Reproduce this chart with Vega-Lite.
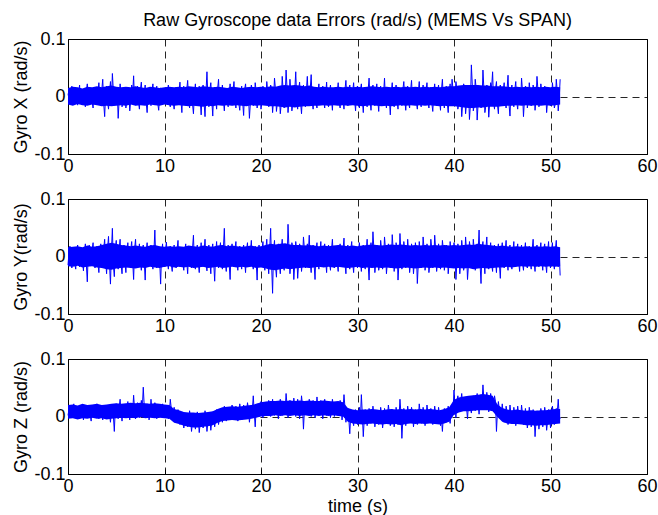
{
"$schema": "https://vega.github.io/schema/vega-lite/v6.json",
"background": "white",
"padding": {"left": 11, "top": 11, "right": 0, "bottom": 0},
"autosize": {"type": "pad"},
"spacing": 45,
"bounds": "flush",
"datasets": {"env": [
{"t":0,"xl":-0.014,"xh":0.015,"yl":-0.017,"yh":0.016,"zl":-0.004,"zh":0.020},
{"t":0.5,"xl":-0.016,"xh":0.017,"yl":-0.018,"yh":0.017,"zl":-0.003,"zh":0.021},
{"t":1,"xl":-0.013,"xh":0.016,"yl":-0.016,"yh":0.018,"zl":-0.005,"zh":0.019},
{"t":1.5,"xl":-0.015,"xh":0.014,"yl":-0.019,"yh":0.016,"zl":-0.003,"zh":0.022},
{"t":2,"xl":-0.016,"xh":0.017,"yl":-0.018,"yh":0.019,"zl":-0.004,"zh":0.020},
{"t":2.5,"xl":-0.014,"xh":0.016,"yl":-0.017,"yh":0.017,"zl":-0.002,"zh":0.021},
{"t":3,"xl":-0.015,"xh":0.018,"yl":-0.019,"yh":0.018,"zl":-0.004,"zh":0.022},
{"t":3.5,"xl":-0.017,"xh":0.016,"yl":-0.020,"yh":0.020,"zl":-0.003,"zh":0.020},
{"t":4,"xl":-0.016,"xh":0.018,"yl":-0.022,"yh":0.022,"zl":-0.005,"zh":0.021},
{"t":4.5,"xl":-0.017,"xh":0.019,"yl":-0.023,"yh":0.024,"zl":-0.004,"zh":0.022},
{"t":5,"xl":-0.016,"xh":0.017,"yl":-0.021,"yh":0.022,"zl":-0.003,"zh":0.023},
{"t":5.5,"xl":-0.015,"xh":0.016,"yl":-0.020,"yh":0.020,"zl":-0.002,"zh":0.022},
{"t":6,"xl":-0.016,"xh":0.017,"yl":-0.019,"yh":0.019,"zl":-0.003,"zh":0.023},
{"t":6.5,"xl":-0.014,"xh":0.016,"yl":-0.020,"yh":0.018,"zl":-0.002,"zh":0.024},
{"t":7,"xl":-0.016,"xh":0.018,"yl":-0.021,"yh":0.019,"zl":-0.003,"zh":0.023},
{"t":7.5,"xl":-0.015,"xh":0.016,"yl":-0.019,"yh":0.018,"zl":-0.001,"zh":0.024},
{"t":8,"xl":-0.016,"xh":0.015,"yl":-0.020,"yh":0.017,"zl":-0.003,"zh":0.023},
{"t":8.5,"xl":-0.014,"xh":0.017,"yl":-0.018,"yh":0.019,"zl":-0.002,"zh":0.022},
{"t":9,"xl":-0.015,"xh":0.016,"yl":-0.019,"yh":0.020,"zl":-0.003,"zh":0.023},
{"t":9.5,"xl":-0.016,"xh":0.015,"yl":-0.020,"yh":0.018,"zl":-0.002,"zh":0.022},
{"t":10,"xl":-0.014,"xh":0.016,"yl":-0.018,"yh":0.017,"zl":-0.003,"zh":0.021},
{"t":10.5,"xl":-0.015,"xh":0.017,"yl":-0.017,"yh":0.018,"zl":-0.004,"zh":0.020},
{"t":11,"xl":-0.016,"xh":0.016,"yl":-0.019,"yh":0.017,"zl":-0.011,"zh":0.013},
{"t":11.5,"xl":-0.015,"xh":0.017,"yl":-0.018,"yh":0.018,"zl":-0.013,"zh":0.011},
{"t":12,"xl":-0.016,"xh":0.016,"yl":-0.019,"yh":0.017,"zl":-0.016,"zh":0.008},
{"t":12.5,"xl":-0.017,"xh":0.018,"yl":-0.018,"yh":0.019,"zl":-0.018,"zh":0.007},
{"t":13,"xl":-0.016,"xh":0.017,"yl":-0.020,"yh":0.018,"zl":-0.019,"zh":0.007},
{"t":13.5,"xl":-0.017,"xh":0.016,"yl":-0.019,"yh":0.017,"zl":-0.019,"zh":0.006},
{"t":14,"xl":-0.018,"xh":0.018,"yl":-0.018,"yh":0.019,"zl":-0.018,"zh":0.007},
{"t":14.5,"xl":-0.016,"xh":0.017,"yl":-0.020,"yh":0.018,"zl":-0.017,"zh":0.008},
{"t":15,"xl":-0.017,"xh":0.016,"yl":-0.019,"yh":0.017,"zl":-0.015,"zh":0.009},
{"t":15.5,"xl":-0.015,"xh":0.017,"yl":-0.018,"yh":0.019,"zl":-0.011,"zh":0.013},
{"t":16,"xl":-0.016,"xh":0.016,"yl":-0.020,"yh":0.020,"zl":-0.008,"zh":0.016},
{"t":16.5,"xl":-0.015,"xh":0.015,"yl":-0.019,"yh":0.018,"zl":-0.007,"zh":0.017},
{"t":17,"xl":-0.016,"xh":0.017,"yl":-0.018,"yh":0.019,"zl":-0.006,"zh":0.018},
{"t":17.5,"xl":-0.015,"xh":0.016,"yl":-0.019,"yh":0.018,"zl":-0.007,"zh":0.017},
{"t":18,"xl":-0.016,"xh":0.015,"yl":-0.018,"yh":0.017,"zl":-0.006,"zh":0.018},
{"t":18.5,"xl":-0.017,"xh":0.016,"yl":-0.019,"yh":0.018,"zl":-0.005,"zh":0.019},
{"t":19,"xl":-0.015,"xh":0.017,"yl":-0.018,"yh":0.019,"zl":-0.004,"zh":0.020},
{"t":19.5,"xl":-0.016,"xh":0.016,"yl":-0.020,"yh":0.017,"zl":-0.002,"zh":0.022},
{"t":20,"xl":-0.015,"xh":0.017,"yl":-0.019,"yh":0.018,"zl":0.000,"zh":0.025},
{"t":20.5,"xl":-0.016,"xh":0.016,"yl":-0.021,"yh":0.020,"zl":0.001,"zh":0.026},
{"t":21,"xl":-0.017,"xh":0.018,"yl":-0.023,"yh":0.022,"zl":0.001,"zh":0.027},
{"t":21.5,"xl":-0.017,"xh":0.017,"yl":-0.024,"yh":0.021,"zl":0.002,"zh":0.027},
{"t":22,"xl":-0.018,"xh":0.019,"yl":-0.022,"yh":0.022,"zl":0.001,"zh":0.028},
{"t":22.5,"xl":-0.019,"xh":0.020,"yl":-0.021,"yh":0.023,"zl":0.002,"zh":0.027},
{"t":23,"xl":-0.018,"xh":0.019,"yl":-0.022,"yh":0.021,"zl":0.001,"zh":0.028},
{"t":23.5,"xl":-0.019,"xh":0.020,"yl":-0.021,"yh":0.020,"zl":0.002,"zh":0.027},
{"t":24,"xl":-0.018,"xh":0.019,"yl":-0.020,"yh":0.020,"zl":0.001,"zh":0.028},
{"t":24.5,"xl":-0.017,"xh":0.018,"yl":-0.019,"yh":0.019,"zl":0.002,"zh":0.027},
{"t":25,"xl":-0.017,"xh":0.019,"yl":-0.020,"yh":0.020,"zl":0.001,"zh":0.028},
{"t":25.5,"xl":-0.016,"xh":0.017,"yl":-0.019,"yh":0.019,"zl":0.002,"zh":0.027},
{"t":26,"xl":-0.016,"xh":0.016,"yl":-0.018,"yh":0.018,"zl":0.001,"zh":0.027},
{"t":26.5,"xl":-0.015,"xh":0.017,"yl":-0.019,"yh":0.019,"zl":0.002,"zh":0.028},
{"t":27,"xl":-0.016,"xh":0.016,"yl":-0.018,"yh":0.018,"zl":0.001,"zh":0.027},
{"t":27.5,"xl":-0.015,"xh":0.016,"yl":-0.019,"yh":0.019,"zl":0.002,"zh":0.026},
{"t":28,"xl":-0.016,"xh":0.017,"yl":-0.018,"yh":0.020,"zl":0.001,"zh":0.027},
{"t":28.5,"xl":-0.015,"xh":0.016,"yl":-0.019,"yh":0.019,"zl":0.000,"zh":0.025},
{"t":29,"xl":-0.016,"xh":0.017,"yl":-0.020,"yh":0.018,"zl":-0.009,"zh":0.015},
{"t":29.5,"xl":-0.015,"xh":0.016,"yl":-0.019,"yh":0.019,"zl":-0.012,"zh":0.012},
{"t":30,"xl":-0.016,"xh":0.017,"yl":-0.018,"yh":0.018,"zl":-0.013,"zh":0.011},
{"t":30.5,"xl":-0.017,"xh":0.016,"yl":-0.020,"yh":0.019,"zl":-0.014,"zh":0.012},
{"t":31,"xl":-0.016,"xh":0.017,"yl":-0.019,"yh":0.020,"zl":-0.013,"zh":0.012},
{"t":31.5,"xl":-0.015,"xh":0.018,"yl":-0.020,"yh":0.021,"zl":-0.012,"zh":0.013},
{"t":32,"xl":-0.016,"xh":0.017,"yl":-0.019,"yh":0.020,"zl":-0.013,"zh":0.012},
{"t":32.5,"xl":-0.017,"xh":0.016,"yl":-0.020,"yh":0.019,"zl":-0.014,"zh":0.011},
{"t":33,"xl":-0.016,"xh":0.017,"yl":-0.019,"yh":0.020,"zl":-0.013,"zh":0.012},
{"t":33.5,"xl":-0.017,"xh":0.016,"yl":-0.020,"yh":0.021,"zl":-0.014,"zh":0.013},
{"t":34,"xl":-0.016,"xh":0.017,"yl":-0.021,"yh":0.020,"zl":-0.013,"zh":0.012},
{"t":34.5,"xl":-0.015,"xh":0.016,"yl":-0.020,"yh":0.021,"zl":-0.015,"zh":0.013},
{"t":35,"xl":-0.016,"xh":0.017,"yl":-0.019,"yh":0.020,"zl":-0.013,"zh":0.012},
{"t":35.5,"xl":-0.015,"xh":0.016,"yl":-0.020,"yh":0.019,"zl":-0.012,"zh":0.013},
{"t":36,"xl":-0.016,"xh":0.017,"yl":-0.021,"yh":0.020,"zl":-0.013,"zh":0.012},
{"t":36.5,"xl":-0.015,"xh":0.016,"yl":-0.020,"yh":0.019,"zl":-0.012,"zh":0.013},
{"t":37,"xl":-0.016,"xh":0.017,"yl":-0.019,"yh":0.020,"zl":-0.013,"zh":0.012},
{"t":37.5,"xl":-0.015,"xh":0.016,"yl":-0.020,"yh":0.019,"zl":-0.012,"zh":0.013},
{"t":38,"xl":-0.016,"xh":0.017,"yl":-0.019,"yh":0.020,"zl":-0.013,"zh":0.012},
{"t":38.5,"xl":-0.017,"xh":0.016,"yl":-0.020,"yh":0.019,"zl":-0.014,"zh":0.011},
{"t":39,"xl":-0.016,"xh":0.017,"yl":-0.019,"yh":0.020,"zl":-0.012,"zh":0.013},
{"t":39.5,"xl":-0.017,"xh":0.018,"yl":-0.020,"yh":0.019,"zl":-0.009,"zh":0.016},
{"t":40,"xl":-0.017,"xh":0.018,"yl":-0.021,"yh":0.020,"zl":0.003,"zh":0.029},
{"t":40.5,"xl":-0.018,"xh":0.019,"yl":-0.020,"yh":0.019,"zl":0.007,"zh":0.033},
{"t":41,"xl":-0.019,"xh":0.020,"yl":-0.021,"yh":0.020,"zl":0.009,"zh":0.035},
{"t":41.5,"xl":-0.020,"xh":0.020,"yl":-0.020,"yh":0.021,"zl":0.009,"zh":0.036},
{"t":42,"xl":-0.020,"xh":0.020,"yl":-0.022,"yh":0.020,"zl":0.010,"zh":0.037},
{"t":42.5,"xl":-0.019,"xh":0.020,"yl":-0.021,"yh":0.022,"zl":0.011,"zh":0.038},
{"t":43,"xl":-0.019,"xh":0.019,"yl":-0.020,"yh":0.021,"zl":0.011,"zh":0.039},
{"t":43.5,"xl":-0.018,"xh":0.019,"yl":-0.021,"yh":0.020,"zl":0.011,"zh":0.038},
{"t":44,"xl":-0.018,"xh":0.018,"yl":-0.020,"yh":0.019,"zl":0.009,"zh":0.036},
{"t":44.5,"xl":-0.018,"xh":0.018,"yl":-0.019,"yh":0.018,"zl":-0.001,"zh":0.021},
{"t":45,"xl":-0.017,"xh":0.018,"yl":-0.019,"yh":0.019,"zl":-0.009,"zh":0.015},
{"t":45.5,"xl":-0.016,"xh":0.017,"yl":-0.018,"yh":0.018,"zl":-0.012,"zh":0.012},
{"t":46,"xl":-0.016,"xh":0.016,"yl":-0.019,"yh":0.017,"zl":-0.013,"zh":0.011},
{"t":46.5,"xl":-0.015,"xh":0.017,"yl":-0.018,"yh":0.018,"zl":-0.013,"zh":0.012},
{"t":47,"xl":-0.016,"xh":0.016,"yl":-0.017,"yh":0.017,"zl":-0.014,"zh":0.011},
{"t":47.5,"xl":-0.015,"xh":0.017,"yl":-0.018,"yh":0.018,"zl":-0.015,"zh":0.010},
{"t":48,"xl":-0.016,"xh":0.016,"yl":-0.017,"yh":0.017,"zl":-0.015,"zh":0.011},
{"t":48.5,"xl":-0.015,"xh":0.017,"yl":-0.018,"yh":0.018,"zl":-0.016,"zh":0.010},
{"t":49,"xl":-0.016,"xh":0.016,"yl":-0.017,"yh":0.017,"zl":-0.015,"zh":0.011},
{"t":49.5,"xl":-0.015,"xh":0.017,"yl":-0.018,"yh":0.018,"zl":-0.015,"zh":0.011},
{"t":50,"xl":-0.016,"xh":0.016,"yl":-0.017,"yh":0.017,"zl":-0.014,"zh":0.012},
{"t":50.5,"xl":-0.015,"xh":0.017,"yl":-0.018,"yh":0.018,"zl":-0.013,"zh":0.013},
{"t":51,"xl":-0.014,"xh":0.016,"yl":-0.017,"yh":0.016,"zl":-0.012,"zh":0.013}
],
"g": [
{"t":0,"x":0.005,"y":-0.015,"z":0.002},
{"t":0.2,"x":-0.012,"y":0.018,"z":0.018},
{"t":0.4,"x":0.018,"y":-0.020,"z":-0.002},
{"t":0.6,"x":-0.008,"y":0.012,"z":0.022},
{"t":0.8,"x":0.014,"y":-0.022,"z":0.000},
{"t":1.0,"x":-0.015,"y":0.020,"z":0.016},
{"t":1.2,"x":0.020,"y":-0.018,"z":-0.004},
{"t":1.4,"x":-0.006,"y":0.015,"z":0.020},
{"t":1.6,"x":0.012,"y":-0.025,"z":-0.006},
{"t":1.8,"x":-0.018,"y":0.022,"z":0.014},
{"t":2.0,"x":0.022,"y":-0.044,"z":0.000},
{"t":2.2,"x":-0.010,"y":0.020,"z":0.020},
{"t":2.4,"x":0.009,"y":-0.016,"z":-0.008},
{"t":2.6,"x":-0.020,"y":0.024,"z":0.016},
{"t":2.8,"x":0.016,"y":-0.020,"z":0.002},
{"t":3.0,"x":-0.012,"y":0.018,"z":0.022},
{"t":3.2,"x":0.024,"y":-0.028,"z":-0.004},
{"t":3.4,"x":-0.008,"y":0.022,"z":0.014},
{"t":3.6,"x":0.030,"y":-0.018,"z":-0.006},
{"t":3.8,"x":-0.035,"y":0.030,"z":0.018},
{"t":4.0,"x":0.018,"y":-0.030,"z":-0.002},
{"t":4.2,"x":-0.022,"y":0.035,"z":0.020},
{"t":4.4,"x":0.026,"y":-0.048,"z":-0.010},
{"t":4.6,"x":0.040,"y":0.049,"z":0.016},
{"t":4.8,"x":-0.014,"y":-0.035,"z":-0.026},
{"t":5.0,"x":0.010,"y":0.028,"z":0.022},
{"t":5.2,"x":-0.038,"y":-0.022,"z":-0.004},
{"t":5.4,"x":0.022,"y":0.030,"z":0.030},
{"t":5.6,"x":-0.018,"y":-0.030,"z":-0.008},
{"t":5.8,"x":0.015,"y":0.020,"z":0.020},
{"t":6.0,"x":-0.020,"y":-0.028,"z":-0.002},
{"t":6.2,"x":0.012,"y":0.024,"z":0.026},
{"t":6.4,"x":-0.025,"y":-0.018,"z":-0.006},
{"t":6.6,"x":0.020,"y":0.026,"z":0.018},
{"t":6.8,"x":0.036,"y":-0.040,"z":0.037},
{"t":7.0,"x":-0.015,"y":0.030,"z":-0.004},
{"t":7.2,"x":0.018,"y":-0.020,"z":0.024},
{"t":7.4,"x":-0.022,"y":0.022,"z":-0.002},
{"t":7.6,"x":0.025,"y":-0.024,"z":0.028},
{"t":7.8,"x":-0.010,"y":0.020,"z":0.051},
{"t":8.0,"x":0.020,"y":-0.041,"z":0.000},
{"t":8.2,"x":-0.028,"y":0.024,"z":0.022},
{"t":8.4,"x":0.012,"y":-0.016,"z":-0.006},
{"t":8.6,"x":-0.016,"y":0.020,"z":0.030},
{"t":8.8,"x":0.022,"y":-0.022,"z":0.002},
{"t":9.0,"x":-0.012,"y":0.046,"z":0.024},
{"t":9.2,"x":0.018,"y":-0.020,"z":-0.004},
{"t":9.4,"x":-0.024,"y":0.018,"z":0.020},
{"t":9.6,"x":0.015,"y":-0.048,"z":0.000},
{"t":9.8,"x":-0.010,"y":0.022,"z":0.022},
{"t":10.0,"x":0.014,"y":-0.018,"z":-0.002},
{"t":10.2,"x":-0.008,"y":0.025,"z":0.018},
{"t":10.4,"x":0.020,"y":-0.022,"z":-0.004},
{"t":10.6,"x":-0.018,"y":0.018,"z":0.030},
{"t":10.8,"x":0.010,"y":-0.026,"z":-0.006},
{"t":11.0,"x":-0.022,"y":0.020,"z":0.016},
{"t":11.2,"x":0.016,"y":-0.020,"z":-0.010},
{"t":11.4,"x":-0.012,"y":0.028,"z":0.012},
{"t":11.6,"x":0.025,"y":-0.018,"z":-0.014},
{"t":11.8,"x":-0.028,"y":0.016,"z":0.008},
{"t":12.0,"x":0.018,"y":-0.024,"z":-0.020},
{"t":12.2,"x":-0.015,"y":0.022,"z":0.006},
{"t":12.4,"x":0.028,"y":-0.030,"z":-0.018},
{"t":12.6,"x":-0.020,"y":0.018,"z":0.010},
{"t":12.8,"x":0.012,"y":-0.020,"z":-0.026},
{"t":13.0,"x":-0.030,"y":0.037,"z":0.004},
{"t":13.2,"x":0.022,"y":-0.022,"z":-0.022},
{"t":13.4,"x":-0.014,"y":0.020,"z":0.008},
{"t":13.6,"x":0.018,"y":-0.028,"z":-0.028},
{"t":13.8,"x":-0.032,"y":0.024,"z":0.006},
{"t":14.0,"x":0.020,"y":-0.018,"z":-0.020},
{"t":14.2,"x":-0.035,"y":0.030,"z":0.010},
{"t":14.4,"x":0.043,"y":-0.025,"z":-0.026},
{"t":14.6,"x":-0.018,"y":0.020,"z":0.004},
{"t":14.8,"x":0.024,"y":-0.030,"z":-0.024},
{"t":15.0,"x":-0.034,"y":0.022,"z":0.008},
{"t":15.2,"x":0.016,"y":-0.043,"z":-0.018},
{"t":15.4,"x":-0.022,"y":0.026,"z":0.012},
{"t":15.6,"x":0.030,"y":-0.020,"z":-0.014},
{"t":15.8,"x":-0.012,"y":0.024,"z":0.014},
{"t":16.0,"x":0.020,"y":-0.022,"z":-0.010},
{"t":16.2,"x":-0.025,"y":0.049,"z":0.018},
{"t":16.4,"x":0.014,"y":-0.026,"z":-0.008},
{"t":16.6,"x":-0.018,"y":0.020,"z":0.016},
{"t":16.8,"x":0.022,"y":-0.040,"z":-0.006},
{"t":17.0,"x":-0.015,"y":0.022,"z":0.020},
{"t":17.2,"x":0.026,"y":-0.018,"z":-0.004},
{"t":17.4,"x":-0.020,"y":0.026,"z":0.018},
{"t":17.6,"x":0.012,"y":-0.024,"z":-0.008},
{"t":17.8,"x":-0.024,"y":0.018,"z":0.022},
{"t":18.0,"x":0.018,"y":-0.022,"z":-0.006},
{"t":18.2,"x":-0.033,"y":0.020,"z":0.020},
{"t":18.4,"x":0.022,"y":-0.028,"z":-0.004},
{"t":18.6,"x":0.015,"y":0.024,"z":0.024},
{"t":18.8,"x":-0.038,"y":-0.016,"z":-0.010},
{"t":19.0,"x":0.020,"y":0.028,"z":0.020},
{"t":19.2,"x":-0.016,"y":-0.022,"z":0.036},
{"t":19.4,"x":0.024,"y":0.018,"z":-0.018},
{"t":19.6,"x":-0.020,"y":-0.041,"z":0.022},
{"t":19.8,"x":0.014,"y":0.020,"z":0.000},
{"t":20.0,"x":-0.022,"y":-0.018,"z":0.026},
{"t":20.2,"x":0.018,"y":0.026,"z":-0.002},
{"t":20.4,"x":-0.014,"y":-0.024,"z":0.024},
{"t":20.6,"x":0.026,"y":0.030,"z":0.004},
{"t":20.8,"x":-0.018,"y":-0.030,"z":0.028},
{"t":21.0,"x":0.020,"y":0.049,"z":0.000},
{"t":21.2,"x":-0.028,"y":-0.064,"z":0.030},
{"t":21.4,"x":0.032,"y":0.028,"z":0.002},
{"t":21.6,"x":-0.026,"y":-0.036,"z":0.026},
{"t":21.8,"x":0.016,"y":0.022,"z":-0.004},
{"t":22.0,"x":-0.030,"y":-0.030,"z":0.030},
{"t":22.2,"x":0.035,"y":0.030,"z":0.002},
{"t":22.4,"x":-0.020,"y":-0.024,"z":0.024},
{"t":22.6,"x":0.046,"y":0.020,"z":0.040},
{"t":22.8,"x":-0.028,"y":0.056,"z":-0.002},
{"t":23.0,"x":0.030,"y":-0.030,"z":0.028},
{"t":23.2,"x":-0.025,"y":0.024,"z":0.004},
{"t":23.4,"x":-0.015,"y":-0.040,"z":0.032},
{"t":23.6,"x":0.043,"y":0.026,"z":0.000},
{"t":23.8,"x":-0.022,"y":-0.038,"z":0.030},
{"t":24.0,"x":0.025,"y":0.022,"z":-0.004},
{"t":24.2,"x":-0.030,"y":-0.026,"z":0.036},
{"t":24.4,"x":0.020,"y":0.034,"z":-0.022},
{"t":24.6,"x":-0.018,"y":-0.020,"z":0.026},
{"t":24.8,"x":0.035,"y":0.022,"z":0.004},
{"t":25.0,"x":-0.015,"y":0.037,"z":0.030},
{"t":25.2,"x":0.038,"y":-0.028,"z":0.000},
{"t":25.4,"x":-0.022,"y":0.020,"z":0.028},
{"t":25.6,"x":0.016,"y":-0.040,"z":-0.002},
{"t":25.8,"x":-0.020,"y":0.024,"z":0.034},
{"t":26.0,"x":0.022,"y":-0.022,"z":0.004},
{"t":26.2,"x":-0.014,"y":0.026,"z":0.028},
{"t":26.4,"x":0.018,"y":-0.018,"z":-0.004},
{"t":26.6,"x":-0.020,"y":0.022,"z":0.030},
{"t":26.8,"x":0.025,"y":-0.028,"z":0.002},
{"t":27.0,"x":-0.018,"y":0.020,"z":0.026},
{"t":27.2,"x":0.020,"y":-0.024,"z":-0.002},
{"t":27.4,"x":-0.024,"y":0.030,"z":0.030},
{"t":27.6,"x":0.015,"y":-0.020,"z":0.000},
{"t":27.8,"x":-0.012,"y":0.018,"z":0.024},
{"t":28.0,"x":0.024,"y":-0.026,"z":0.002},
{"t":28.2,"x":-0.020,"y":0.022,"z":0.028},
{"t":28.4,"x":0.012,"y":-0.018,"z":-0.006},
{"t":28.6,"x":-0.022,"y":0.032,"z":0.038},
{"t":28.8,"x":0.028,"y":-0.030,"z":-0.010},
{"t":29.0,"x":-0.016,"y":0.020,"z":0.014},
{"t":29.2,"x":0.020,"y":-0.022,"z":-0.030},
{"t":29.4,"x":-0.014,"y":0.026,"z":0.010},
{"t":29.6,"x":0.024,"y":-0.028,"z":-0.016},
{"t":29.8,"x":-0.025,"y":0.018,"z":0.012},
{"t":30.0,"x":0.018,"y":-0.020,"z":-0.014},
{"t":30.2,"x":-0.020,"y":0.024,"z":0.016},
{"t":30.4,"x":0.022,"y":-0.026,"z":0.038},
{"t":30.6,"x":-0.028,"y":0.020,"z":-0.035},
{"t":30.8,"x":0.014,"y":-0.022,"z":0.012},
{"t":31.0,"x":-0.018,"y":0.030,"z":-0.016},
{"t":31.2,"x":0.032,"y":-0.041,"z":0.014},
{"t":31.4,"x":-0.024,"y":0.024,"z":-0.012},
{"t":31.6,"x":0.020,"y":0.043,"z":0.018},
{"t":31.8,"x":-0.016,"y":-0.028,"z":-0.018},
{"t":32.0,"x":0.022,"y":0.020,"z":0.010},
{"t":32.2,"x":-0.026,"y":-0.024,"z":-0.014},
{"t":32.4,"x":0.018,"y":0.028,"z":0.016},
{"t":32.6,"x":-0.014,"y":-0.022,"z":-0.020},
{"t":32.8,"x":0.032,"y":0.034,"z":0.014},
{"t":33.0,"x":-0.020,"y":-0.030,"z":-0.012},
{"t":33.2,"x":0.015,"y":0.022,"z":0.020},
{"t":33.4,"x":-0.032,"y":-0.020,"z":-0.016},
{"t":33.6,"x":0.024,"y":0.038,"z":0.012},
{"t":33.8,"x":-0.018,"y":-0.026,"z":-0.018},
{"t":34.0,"x":0.020,"y":0.024,"z":0.016},
{"t":34.2,"x":-0.022,"y":-0.041,"z":-0.014},
{"t":34.4,"x":0.014,"y":0.040,"z":0.030},
{"t":34.6,"x":-0.016,"y":-0.022,"z":-0.038},
{"t":34.8,"x":0.026,"y":0.026,"z":0.014},
{"t":35.0,"x":-0.024,"y":-0.020,"z":-0.016},
{"t":35.2,"x":0.018,"y":0.030,"z":0.018},
{"t":35.4,"x":-0.020,"y":-0.028,"z":-0.010},
{"t":35.6,"x":0.028,"y":0.022,"z":0.016},
{"t":35.8,"x":-0.012,"y":-0.030,"z":-0.018},
{"t":36.0,"x":0.015,"y":0.024,"z":0.012},
{"t":36.2,"x":-0.022,"y":-0.047,"z":-0.014},
{"t":36.4,"x":0.026,"y":0.026,"z":0.022},
{"t":36.6,"x":-0.018,"y":-0.020,"z":-0.012},
{"t":36.8,"x":0.020,"y":0.034,"z":0.016},
{"t":37.0,"x":-0.014,"y":-0.024,"z":-0.016},
{"t":37.2,"x":0.024,"y":0.022,"z":0.020},
{"t":37.4,"x":-0.020,"y":-0.028,"z":-0.010},
{"t":37.6,"x":0.016,"y":0.030,"z":0.014},
{"t":37.8,"x":-0.026,"y":-0.020,"z":-0.014},
{"t":38.0,"x":0.022,"y":0.037,"z":0.018},
{"t":38.2,"x":-0.016,"y":-0.026,"z":-0.012},
{"t":38.4,"x":0.020,"y":0.022,"z":0.016},
{"t":38.6,"x":-0.024,"y":-0.022,"z":-0.016},
{"t":38.8,"x":0.030,"y":0.028,"z":-0.026},
{"t":39.0,"x":-0.020,"y":-0.024,"z":0.014},
{"t":39.2,"x":0.018,"y":0.020,"z":-0.010},
{"t":39.4,"x":-0.028,"y":-0.030,"z":0.018},
{"t":39.6,"x":0.022,"y":0.026,"z":-0.012},
{"t":39.8,"x":0.030,"y":-0.020,"z":0.016},
{"t":40.0,"x":-0.015,"y":0.024,"z":0.046},
{"t":40.2,"x":0.026,"y":-0.040,"z":-0.002},
{"t":40.4,"x":-0.022,"y":0.022,"z":0.036},
{"t":40.6,"x":0.018,"y":-0.030,"z":0.008},
{"t":40.8,"x":-0.035,"y":0.028,"z":0.040},
{"t":41.0,"x":0.022,"y":-0.024,"z":0.012},
{"t":41.2,"x":-0.030,"y":0.034,"z":0.034},
{"t":41.4,"x":0.010,"y":-0.040,"z":-0.004},
{"t":41.6,"x":-0.040,"y":0.026,"z":0.030},
{"t":41.8,"x":0.055,"y":-0.020,"z":0.006},
{"t":42.0,"x":-0.025,"y":0.030,"z":0.036},
{"t":42.2,"x":0.030,"y":-0.024,"z":0.010},
{"t":42.4,"x":-0.041,"y":0.022,"z":0.040},
{"t":42.6,"x":0.018,"y":0.046,"z":0.004},
{"t":42.8,"x":-0.020,"y":-0.047,"z":0.038},
{"t":43.0,"x":0.046,"y":0.026,"z":0.055},
{"t":43.2,"x":-0.028,"y":-0.030,"z":0.012},
{"t":43.4,"x":0.020,"y":0.034,"z":0.042},
{"t":43.6,"x":-0.036,"y":-0.022,"z":0.008},
{"t":43.8,"x":0.024,"y":0.024,"z":0.040},
{"t":44.0,"x":0.043,"y":-0.026,"z":0.014},
{"t":44.2,"x":-0.022,"y":0.020,"z":0.036},
{"t":44.4,"x":0.026,"y":-0.028,"z":-0.026},
{"t":44.6,"x":-0.030,"y":0.022,"z":0.026},
{"t":44.8,"x":0.020,"y":-0.038,"z":-0.004},
{"t":45.0,"x":-0.016,"y":0.024,"z":0.022},
{"t":45.2,"x":0.024,"y":-0.020,"z":-0.010},
{"t":45.4,"x":-0.020,"y":0.028,"z":0.018},
{"t":45.6,"x":0.037,"y":-0.024,"z":-0.014},
{"t":45.8,"x":-0.034,"y":0.020,"z":0.020},
{"t":46.0,"x":0.020,"y":-0.022,"z":-0.012},
{"t":46.2,"x":-0.018,"y":0.026,"z":0.016},
{"t":46.4,"x":0.026,"y":-0.018,"z":-0.016},
{"t":46.6,"x":-0.022,"y":0.022,"z":0.018},
{"t":46.8,"x":0.016,"y":-0.026,"z":-0.010},
{"t":47.0,"x":0.032,"y":0.020,"z":0.020},
{"t":47.2,"x":-0.035,"y":-0.024,"z":-0.014},
{"t":47.4,"x":0.018,"y":0.024,"z":0.014},
{"t":47.6,"x":-0.020,"y":-0.020,"z":-0.020},
{"t":47.8,"x":0.024,"y":0.018,"z":0.016},
{"t":48.0,"x":-0.016,"y":-0.022,"z":-0.018},
{"t":48.2,"x":0.020,"y":0.030,"z":0.012},
{"t":48.4,"x":-0.024,"y":-0.026,"z":-0.035},
{"t":48.6,"x":0.035,"y":0.020,"z":0.010},
{"t":48.8,"x":-0.018,"y":-0.018,"z":-0.022},
{"t":49.0,"x":0.022,"y":0.024,"z":0.014},
{"t":49.2,"x":-0.014,"y":-0.024,"z":-0.018},
{"t":49.4,"x":0.018,"y":0.022,"z":0.016},
{"t":49.6,"x":-0.028,"y":-0.028,"z":-0.024},
{"t":49.8,"x":0.015,"y":0.026,"z":0.012},
{"t":50.0,"x":-0.016,"y":-0.020,"z":-0.020},
{"t":50.2,"x":0.024,"y":0.024,"z":0.018},
{"t":50.4,"x":-0.020,"y":-0.022,"z":-0.014},
{"t":50.6,"x":0.030,"y":0.028,"z":0.014},
{"t":50.8,"x":-0.025,"y":-0.018,"z":0.030},
{"t":51.0,"x":0.030,"y":-0.033,"z":-0.004},
{"t":0.1,"x":-0.004,"y":0.006,"z":0.012},
{"t":0.3,"x":0.009,"y":-0.010,"z":0.004},
{"t":0.5,"x":-0.011,"y":0.004,"z":0.014},
{"t":0.7,"x":0.006,"y":-0.012,"z":0.006},
{"t":0.9,"x":-0.003,"y":0.009,"z":0.010},
{"t":1.1,"x":0.007,"y":-0.008,"z":0.003},
{"t":1.3,"x":-0.012,"y":0.011,"z":0.012},
{"t":1.5,"x":0.004,"y":-0.005,"z":0.005},
{"t":1.7,"x":-0.008,"y":0.007,"z":0.013},
{"t":1.9,"x":0.010,"y":-0.013,"z":0.004},
{"t":2.1,"x":-0.006,"y":0.010,"z":0.011},
{"t":2.3,"x":0.003,"y":-0.006,"z":0.002},
{"t":2.5,"x":-0.010,"y":0.012,"z":0.015},
{"t":2.7,"x":0.012,"y":-0.009,"z":0.007},
{"t":2.9,"x":-0.005,"y":0.005,"z":0.012},
{"t":3.1,"x":0.008,"y":-0.011,"z":0.006},
{"t":3.3,"x":-0.004,"y":0.007,"z":0.013},
{"t":3.5,"x":0.011,"y":-0.004,"z":0.003},
{"t":3.7,"x":-0.012,"y":0.013,"z":0.011},
{"t":3.9,"x":0.006,"y":-0.008,"z":0.005},
{"t":4.1,"x":-0.009,"y":0.014,"z":0.012},
{"t":4.3,"x":0.005,"y":-0.012,"z":0.004},
{"t":4.5,"x":-0.013,"y":0.009,"z":0.010},
{"t":4.7,"x":0.010,"y":-0.015,"z":0.002},
{"t":4.9,"x":-0.004,"y":0.011,"z":0.014},
{"t":5.1,"x":0.012,"y":-0.009,"z":0.008},
{"t":5.3,"x":-0.006,"y":0.013,"z":0.016},
{"t":5.5,"x":0.004,"y":-0.014,"z":0.006},
{"t":5.7,"x":-0.010,"y":0.008,"z":0.012},
{"t":5.9,"x":0.007,"y":-0.010,"z":0.004},
{"t":6.1,"x":-0.005,"y":0.007,"z":0.014},
{"t":6.3,"x":0.010,"y":-0.011,"z":0.006},
{"t":6.5,"x":-0.008,"y":0.012,"z":0.015},
{"t":6.7,"x":0.003,"y":-0.006,"z":0.008},
{"t":6.9,"x":-0.011,"y":0.013,"z":0.012},
{"t":7.1,"x":0.006,"y":-0.012,"z":0.010},
{"t":7.3,"x":-0.009,"y":0.008,"z":0.016},
{"t":7.5,"x":0.012,"y":-0.007,"z":0.007},
{"t":7.7,"x":-0.004,"y":0.011,"z":0.013},
{"t":7.9,"x":0.008,"y":-0.009,"z":0.018},
{"t":8.1,"x":-0.010,"y":0.009,"z":0.008},
{"t":8.3,"x":0.005,"y":-0.005,"z":0.014},
{"t":8.5,"x":-0.006,"y":0.013,"z":0.004},
{"t":8.7,"x":0.011,"y":-0.010,"z":0.012},
{"t":8.9,"x":-0.003,"y":0.006,"z":0.009},
{"t":9.1,"x":0.009,"y":-0.010,"z":0.013},
{"t":9.3,"x":-0.012,"y":0.012,"z":0.006},
{"t":9.5,"x":0.004,"y":-0.008,"z":0.015},
{"t":9.7,"x":-0.007,"y":0.006,"z":0.009},
{"t":9.9,"x":0.010,"y":-0.012,"z":0.011},
{"t":10.1,"x":-0.007,"y":0.011,"z":0.006},
{"t":10.3,"x":0.006,"y":-0.007,"z":0.012},
{"t":10.5,"x":-0.011,"y":0.010,"z":0.004},
{"t":10.7,"x":0.004,"y":-0.013,"z":0.014},
{"t":10.9,"x":-0.009,"y":0.008,"z":0.002},
{"t":11.1,"x":0.005,"y":-0.006,"z":0.004},
{"t":11.3,"x":-0.010,"y":0.012,"z":-0.002},
{"t":11.5,"x":0.008,"y":-0.010,"z":0.002},
{"t":11.7,"x":-0.004,"y":0.007,"z":-0.004},
{"t":11.9,"x":0.012,"y":-0.011,"z":-0.002},
{"t":12.1,"x":-0.008,"y":0.010,"z":-0.008},
{"t":12.3,"x":0.011,"y":-0.008,"z":-0.002},
{"t":12.5,"x":-0.005,"y":0.006,"z":-0.010},
{"t":12.7,"x":0.009,"y":-0.012,"z":-0.004},
{"t":12.9,"x":-0.012,"y":0.013,"z":-0.009},
{"t":13.1,"x":0.004,"y":-0.013,"z":-0.006},
{"t":13.3,"x":-0.012,"y":0.009,"z":-0.012},
{"t":13.5,"x":0.010,"y":-0.011,"z":-0.004},
{"t":13.7,"x":-0.006,"y":0.005,"z":-0.010},
{"t":13.9,"x":0.008,"y":-0.007,"z":-0.005},
{"t":14.1,"x":-0.011,"y":0.008,"z":-0.011},
{"t":14.3,"x":0.007,"y":-0.012,"z":-0.003},
{"t":14.5,"x":-0.004,"y":0.011,"z":-0.009},
{"t":14.7,"x":0.012,"y":-0.009,"z":-0.002},
{"t":14.9,"x":-0.006,"y":0.012,"z":-0.008},
{"t":15.1,"x":0.010,"y":-0.010,"z":-0.002},
{"t":15.3,"x":-0.005,"y":0.006,"z":-0.006},
{"t":15.5,"x":0.012,"y":-0.013,"z":0.001},
{"t":15.7,"x":-0.009,"y":0.010,"z":-0.003},
{"t":15.9,"x":0.004,"y":-0.008,"z":0.004},
{"t":16.1,"x":-0.006,"y":0.012,"z":0.002},
{"t":16.3,"x":0.009,"y":-0.009,"z":0.008},
{"t":16.5,"x":-0.012,"y":0.007,"z":0.001},
{"t":16.7,"x":0.005,"y":-0.011,"z":0.009},
{"t":16.9,"x":-0.010,"y":0.009,"z":0.003},
{"t":17.1,"x":0.011,"y":-0.007,"z":0.010},
{"t":17.3,"x":-0.004,"y":0.013,"z":0.004},
{"t":17.5,"x":0.007,"y":-0.010,"z":0.011},
{"t":17.7,"x":-0.012,"y":0.006,"z":0.003},
{"t":17.9,"x":0.005,"y":-0.012,"z":0.009},
{"t":18.1,"x":-0.009,"y":0.010,"z":0.004},
{"t":18.3,"x":0.012,"y":-0.006,"z":0.012},
{"t":18.5,"x":-0.006,"y":0.012,"z":0.006},
{"t":18.7,"x":0.004,"y":-0.013,"z":0.013},
{"t":18.9,"x":-0.011,"y":0.008,"z":0.005},
{"t":19.1,"x":0.006,"y":-0.012,"z":0.011},
{"t":19.3,"x":-0.010,"y":0.007,"z":0.006},
{"t":19.5,"x":0.009,"y":-0.009,"z":0.014},
{"t":19.7,"x":-0.005,"y":0.011,"z":0.007},
{"t":19.9,"x":0.012,"y":-0.006,"z":0.012},
{"t":20.1,"x":-0.004,"y":0.009,"z":0.010},
{"t":20.3,"x":0.011,"y":-0.012,"z":0.018},
{"t":20.5,"x":-0.009,"y":0.013,"z":0.012},
{"t":20.7,"x":0.007,"y":-0.008,"z":0.019},
{"t":20.9,"x":-0.012,"y":0.011,"z":0.011},
{"t":21.1,"x":0.008,"y":-0.014,"z":0.016},
{"t":21.3,"x":-0.006,"y":0.012,"z":0.009},
{"t":21.5,"x":0.012,"y":-0.015,"z":0.018},
{"t":21.7,"x":-0.010,"y":0.010,"z":0.010},
{"t":21.9,"x":0.005,"y":-0.012,"z":0.017},
{"t":22.1,"x":-0.012,"y":0.011,"z":0.012},
{"t":22.3,"x":0.009,"y":-0.010,"z":0.020},
{"t":22.5,"x":-0.005,"y":0.008,"z":0.011},
{"t":22.7,"x":0.013,"y":-0.014,"z":0.019},
{"t":22.9,"x":-0.008,"y":0.013,"z":0.013},
{"t":23.1,"x":0.007,"y":-0.009,"z":0.018},
{"t":23.3,"x":-0.012,"y":0.014,"z":0.010},
{"t":23.5,"x":0.010,"y":-0.012,"z":0.020},
{"t":23.7,"x":-0.006,"y":0.009,"z":0.012},
{"t":23.9,"x":0.011,"y":-0.011,"z":0.016},
{"t":24.1,"x":-0.010,"y":0.012,"z":0.011},
{"t":24.3,"x":0.005,"y":-0.008,"z":0.019},
{"t":24.5,"x":-0.012,"y":0.013,"z":0.012},
{"t":24.7,"x":0.009,"y":-0.010,"z":0.017},
{"t":24.9,"x":-0.004,"y":0.007,"z":0.010},
{"t":25.1,"x":0.012,"y":-0.011,"z":0.018},
{"t":25.3,"x":-0.008,"y":0.009,"z":0.012},
{"t":25.5,"x":0.006,"y":-0.013,"z":0.020},
{"t":25.7,"x":-0.011,"y":0.012,"z":0.010},
{"t":25.9,"x":0.009,"y":-0.008,"z":0.016},
{"t":26.1,"x":-0.005,"y":0.008,"z":0.012},
{"t":26.3,"x":0.010,"y":-0.012,"z":0.019},
{"t":26.5,"x":-0.009,"y":0.010,"z":0.011},
{"t":26.7,"x":0.004,"y":-0.007,"z":0.018},
{"t":26.9,"x":-0.012,"y":0.012,"z":0.013},
{"t":27.1,"x":0.009,"y":-0.010,"z":0.017},
{"t":27.3,"x":-0.004,"y":0.011,"z":0.010},
{"t":27.5,"x":0.011,"y":-0.006,"z":0.019},
{"t":27.7,"x":-0.008,"y":0.013,"z":0.012},
{"t":27.9,"x":0.006,"y":-0.012,"z":0.016},
{"t":28.1,"x":-0.011,"y":0.013,"z":0.011},
{"t":28.3,"x":0.006,"y":-0.009,"z":0.018},
{"t":28.5,"x":-0.007,"y":0.011,"z":0.012},
{"t":28.7,"x":0.012,"y":-0.012,"z":0.016},
{"t":28.9,"x":-0.005,"y":0.008,"z":0.006},
{"t":29.1,"x":0.004,"y":-0.008,"z":-0.004},
{"t":29.3,"x":-0.011,"y":0.012,"z":0.003},
{"t":29.5,"x":0.009,"y":-0.010,"z":-0.006},
{"t":29.7,"x":-0.006,"y":0.007,"z":0.002},
{"t":29.9,"x":0.010,"y":-0.013,"z":-0.005},
{"t":30.1,"x":-0.008,"y":0.011,"z":0.002},
{"t":30.3,"x":0.012,"y":-0.006,"z":-0.006},
{"t":30.5,"x":-0.004,"y":0.012,"z":0.004},
{"t":30.7,"x":0.010,"y":-0.011,"z":-0.004},
{"t":30.9,"x":-0.011,"y":0.009,"z":0.003},
{"t":31.1,"x":0.010,"y":-0.012,"z":-0.003},
{"t":31.3,"x":-0.007,"y":0.009,"z":0.005},
{"t":31.5,"x":0.005,"y":-0.008,"z":-0.005},
{"t":31.7,"x":-0.012,"y":0.012,"z":0.004},
{"t":31.9,"x":0.008,"y":-0.010,"z":-0.004},
{"t":32.1,"x":-0.006,"y":0.007,"z":0.003},
{"t":32.3,"x":0.009,"y":-0.013,"z":-0.004},
{"t":32.5,"x":-0.011,"y":0.011,"z":0.005},
{"t":32.7,"x":0.004,"y":-0.006,"z":-0.006},
{"t":32.9,"x":-0.009,"y":0.012,"z":0.002},
{"t":33.1,"x":0.012,"y":-0.009,"z":-0.002},
{"t":33.3,"x":-0.005,"y":0.012,"z":0.006},
{"t":33.5,"x":0.008,"y":-0.014,"z":-0.004},
{"t":33.7,"x":-0.010,"y":0.010,"z":0.003},
{"t":33.9,"x":0.006,"y":-0.007,"z":-0.006},
{"t":34.1,"x":-0.009,"y":0.013,"z":0.004},
{"t":34.3,"x":0.011,"y":-0.010,"z":-0.003},
{"t":34.5,"x":-0.006,"y":0.008,"z":0.006},
{"t":34.7,"x":0.012,"y":-0.012,"z":-0.005},
{"t":34.9,"x":-0.004,"y":0.011,"z":0.002},
{"t":35.1,"x":0.005,"y":-0.011,"z":-0.004},
{"t":35.3,"x":-0.012,"y":0.007,"z":0.005},
{"t":35.5,"x":0.010,"y":-0.012,"z":-0.002},
{"t":35.7,"x":-0.007,"y":0.009,"z":0.006},
{"t":35.9,"x":0.011,"y":-0.008,"z":-0.003},
{"t":36.1,"x":-0.010,"y":0.010,"z":0.003},
{"t":36.3,"x":0.007,"y":-0.013,"z":-0.005},
{"t":36.5,"x":-0.012,"y":0.009,"z":0.006},
{"t":36.7,"x":0.005,"y":-0.007,"z":-0.003},
{"t":36.9,"x":-0.008,"y":0.012,"z":0.004},
{"t":37.1,"x":0.011,"y":-0.008,"z":-0.002},
{"t":37.3,"x":-0.006,"y":0.011,"z":0.006},
{"t":37.5,"x":0.009,"y":-0.012,"z":-0.004},
{"t":37.7,"x":-0.011,"y":0.013,"z":0.005},
{"t":37.9,"x":0.004,"y":-0.010,"z":-0.003},
{"t":38.1,"x":-0.007,"y":0.012,"z":0.004},
{"t":38.3,"x":0.010,"y":-0.009,"z":-0.003},
{"t":38.5,"x":-0.005,"y":0.010,"z":0.005},
{"t":38.7,"x":0.012,"y":-0.006,"z":-0.004},
{"t":38.9,"x":-0.009,"y":0.011,"z":0.002},
{"t":39.1,"x":0.009,"y":-0.010,"z":-0.003},
{"t":39.3,"x":-0.011,"y":0.013,"z":0.005},
{"t":39.5,"x":0.006,"y":-0.011,"z":-0.002},
{"t":39.7,"x":-0.008,"y":0.008,"z":0.006},
{"t":39.9,"x":0.012,"y":-0.012,"z":0.010},
{"t":40.1,"x":-0.008,"y":0.009,"z":0.016},
{"t":40.3,"x":0.012,"y":-0.011,"z":0.026},
{"t":40.5,"x":-0.010,"y":0.013,"z":0.018},
{"t":40.7,"x":0.006,"y":-0.009,"z":0.028},
{"t":40.9,"x":-0.012,"y":0.010,"z":0.020},
{"t":41.1,"x":0.014,"y":-0.012,"z":0.026},
{"t":41.3,"x":-0.012,"y":0.010,"z":0.016},
{"t":41.5,"x":0.016,"y":-0.014,"z":0.022},
{"t":41.7,"x":-0.015,"y":0.012,"z":0.014},
{"t":41.9,"x":0.018,"y":-0.009,"z":0.024},
{"t":42.1,"x":-0.015,"y":0.011,"z":0.018},
{"t":42.3,"x":0.014,"y":-0.013,"z":0.028},
{"t":42.5,"x":-0.012,"y":0.009,"z":0.020},
{"t":42.7,"x":0.016,"y":-0.012,"z":0.026},
{"t":42.9,"x":-0.013,"y":0.014,"z":0.022},
{"t":43.1,"x":0.012,"y":-0.009,"z":0.030},
{"t":43.3,"x":-0.016,"y":0.012,"z":0.022},
{"t":43.5,"x":0.014,"y":-0.011,"z":0.028},
{"t":43.7,"x":-0.011,"y":0.010,"z":0.020},
{"t":43.9,"x":0.015,"y":-0.013,"z":0.027},
{"t":44.1,"x":-0.010,"y":0.012,"z":0.020},
{"t":44.3,"x":0.013,"y":-0.008,"z":0.026},
{"t":44.5,"x":-0.014,"y":0.011,"z":0.008},
{"t":44.7,"x":0.010,"y":-0.012,"z":0.012},
{"t":44.9,"x":-0.012,"y":0.008,"z":0.004},
{"t":45.1,"x":0.011,"y":-0.010,"z":0.006},
{"t":45.3,"x":-0.009,"y":0.011,"z":-0.002},
{"t":45.5,"x":0.012,"y":-0.009,"z":0.008},
{"t":45.7,"x":-0.013,"y":0.012,"z":-0.004},
{"t":45.9,"x":0.008,"y":-0.011,"z":0.005},
{"t":46.1,"x":-0.007,"y":0.009,"z":-0.004},
{"t":46.3,"x":0.012,"y":-0.012,"z":0.004},
{"t":46.5,"x":-0.010,"y":0.010,"z":-0.006},
{"t":46.7,"x":0.005,"y":-0.008,"z":0.003},
{"t":46.9,"x":-0.011,"y":0.012,"z":-0.005},
{"t":47.1,"x":0.009,"y":-0.011,"z":0.004},
{"t":47.3,"x":-0.006,"y":0.008,"z":-0.005},
{"t":47.5,"x":0.012,"y":-0.012,"z":0.002},
{"t":47.7,"x":-0.008,"y":0.010,"z":-0.007},
{"t":47.9,"x":0.006,"y":-0.009,"z":0.003},
{"t":48.1,"x":-0.012,"y":0.012,"z":-0.006},
{"t":48.3,"x":0.008,"y":-0.010,"z":0.002},
{"t":48.5,"x":-0.005,"y":0.009,"z":-0.008},
{"t":48.7,"x":0.011,"y":-0.011,"z":0.001},
{"t":48.9,"x":-0.009,"y":0.010,"z":-0.007},
{"t":49.1,"x":0.006,"y":-0.008,"z":0.002},
{"t":49.3,"x":-0.011,"y":0.013,"z":-0.006},
{"t":49.5,"x":0.010,"y":-0.012,"z":0.004},
{"t":49.7,"x":-0.007,"y":0.008,"z":-0.008},
{"t":49.9,"x":0.012,"y":-0.012,"z":0.001},
{"t":50.1,"x":-0.010,"y":0.010,"z":-0.005},
{"t":50.3,"x":0.007,"y":-0.009,"z":0.004},
{"t":50.5,"x":-0.012,"y":0.012,"z":-0.007},
{"t":50.7,"x":0.009,"y":-0.010,"z":0.006},
{"t":50.9,"x":-0.005,"y":0.008,"z":0.002}
]},
"vconcat": [
{
"width": 579, "height": 115,
"title": {"text": "Raw Gyroscope data Errors (rad/s) (MEMS Vs SPAN)", "frame": "group", "offset": 0},
"encoding": {"x": {"field": "t", "type": "quantitative", "scale": {"domain": [0, 60], "nice": false}, "axis": {"values": [0, 10, 20, 30, 40, 50, 60], "title": null}}},
"layer": [
{"data": {"name": "env"}, "mark": {"type": "area", "color": "#0000ff", "opacity": 1},
"encoding": {"y": {"field": "xl", "type": "quantitative", "scale": {"domain": [-0.1, 0.1], "nice": false}, "axis": {"values": [-0.1, 0, 0.1], "title": "Gyro X (rad/s)", "labelExpr": "datum.value > 0.05 ? '0.1' : (datum.value < -0.05 ? '-0.1' : '0')", "titleX": -47, "titleY": 57.5, "titleAlign": "center", "titleBaseline": "middle", "titleAngle": 270}}, "y2": {"field": "xh"}}},
{"data": {"name": "g"}, "mark": {"type": "line", "color": "#0000ff", "strokeWidth": 1},
"encoding": {"y": {"field": "x", "type": "quantitative", "scale": {"domain": [-0.1, 0.1], "nice": false}, "axis": {"values": [-0.1, 0, 0.1], "title": "Gyro X (rad/s)", "labelExpr": "datum.value > 0.05 ? '0.1' : (datum.value < -0.05 ? '-0.1' : '0')", "titleX": -47, "titleY": 57.5, "titleAlign": "center", "titleBaseline": "middle", "titleAngle": 270}}}}
]
},
{
"width": 579, "height": 115,
"encoding": {"x": {"field": "t", "type": "quantitative", "scale": {"domain": [0, 60], "nice": false}, "axis": {"values": [0, 10, 20, 30, 40, 50, 60], "title": null}}},
"layer": [
{"data": {"name": "env"}, "mark": {"type": "area", "color": "#0000ff", "opacity": 1},
"encoding": {"y": {"field": "yl", "type": "quantitative", "scale": {"domain": [-0.1, 0.1], "nice": false}, "axis": {"values": [-0.1, 0, 0.1], "title": "Gyro Y(rad/s)", "labelExpr": "datum.value > 0.05 ? '0.1' : (datum.value < -0.05 ? '-0.1' : '0')", "titleX": -47, "titleY": 57.5, "titleAlign": "center", "titleBaseline": "middle", "titleAngle": 270}}, "y2": {"field": "yh"}}},
{"data": {"name": "g"}, "mark": {"type": "line", "color": "#0000ff", "strokeWidth": 1},
"encoding": {"y": {"field": "y", "type": "quantitative", "scale": {"domain": [-0.1, 0.1], "nice": false}, "axis": {"values": [-0.1, 0, 0.1], "title": "Gyro Y(rad/s)", "labelExpr": "datum.value > 0.05 ? '0.1' : (datum.value < -0.05 ? '-0.1' : '0')", "titleX": -47, "titleY": 57.5, "titleAlign": "center", "titleBaseline": "middle", "titleAngle": 270}}}}
]
},
{
"width": 579, "height": 115,
"encoding": {"x": {"field": "t", "type": "quantitative", "scale": {"domain": [0, 60], "nice": false}, "axis": {"values": [0, 10, 20, 30, 40, 50, 60], "title": "time (s)", "titlePadding": 2}}},
"layer": [
{"data": {"name": "env"}, "mark": {"type": "area", "color": "#0000ff", "opacity": 1},
"encoding": {"y": {"field": "zl", "type": "quantitative", "scale": {"domain": [-0.1, 0.1], "nice": false}, "axis": {"values": [-0.1, 0, 0.1], "title": "Gyro Z (rad/s)", "labelExpr": "datum.value > 0.05 ? '0.1' : (datum.value < -0.05 ? '-0.1' : '0')", "titleX": -47, "titleY": 57.5, "titleAlign": "center", "titleBaseline": "middle", "titleAngle": 270}}, "y2": {"field": "zh"}}},
{"data": {"name": "g"}, "mark": {"type": "line", "color": "#0000ff", "strokeWidth": 1},
"encoding": {"y": {"field": "z", "type": "quantitative", "scale": {"domain": [-0.1, 0.1], "nice": false}, "axis": {"values": [-0.1, 0, 0.1], "title": "Gyro Z (rad/s)", "labelExpr": "datum.value > 0.05 ? '0.1' : (datum.value < -0.05 ? '-0.1' : '0')", "titleX": -47, "titleY": 57.5, "titleAlign": "center", "titleBaseline": "middle", "titleAngle": 270}}}}
]
}
],
"config": {
"font": "Liberation Sans",
"view": {"stroke": "#000", "strokeWidth": 1},
"axis": {"labelFont": "Liberation Sans", "labelFontSize": 18, "labelColor": "#000", "labelFlush": false, "titleFont": "Liberation Sans", "titleFontSize": 18, "titleFontWeight": "normal", "titleColor": "#000", "domain": false, "ticks": true, "tickColor": "#000", "tickSize": -5, "labelPadding": 8, "grid": true, "gridColor": "#000", "gridDash": [7, 5], "gridWidth": 1, "gridOpacity": 0.85},
"title": {"font": "Liberation Sans", "fontSize": 18, "fontWeight": "normal", "color": "#000"}
}
}
